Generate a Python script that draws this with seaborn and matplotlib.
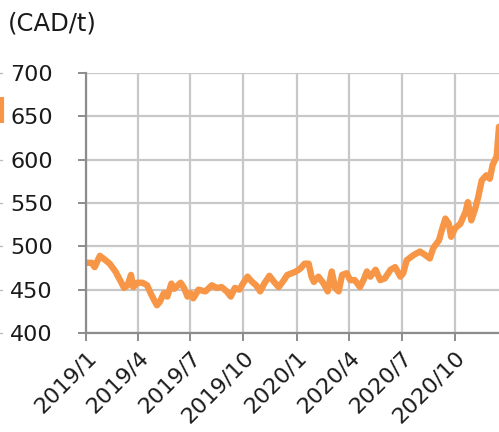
import pandas as pd
import matplotlib
matplotlib.use("Agg")
import matplotlib.pyplot as plt
from matplotlib.lines import Line2D
import seaborn as sns

# =========================
# DATA
# =========================
dates = [
    "2019-01-01", "2019-01-11", "2019-01-16", "2019-01-25", "2019-02-02", "2019-02-11",
    "2019-02-21", "2019-03-01", "2019-03-08", "2019-03-14", "2019-03-20", "2019-03-24",
    "2019-03-31", "2019-04-09", "2019-04-17", "2019-04-23", "2019-04-29", "2019-05-04",
    "2019-05-09", "2019-05-16", "2019-05-22", "2019-05-29", "2019-06-03", "2019-06-14",
    "2019-06-20", "2019-06-26", "2019-07-01", "2019-07-06", "2019-07-15", "2019-07-27",
    "2019-08-07", "2019-08-16", "2019-08-24", "2019-09-02", "2019-09-09", "2019-09-16",
    "2019-09-24", "2019-09-30", "2019-10-08", "2019-10-16", "2019-10-23", "2019-10-30",
    "2019-11-06", "2019-11-15", "2019-11-23", "2019-12-01", "2019-12-08", "2019-12-16",
    "2019-12-24", "2019-12-31", "2020-01-07", "2020-01-15", "2020-01-22", "2020-01-27",
    "2020-01-31", "2020-02-08", "2020-02-17", "2020-02-24", "2020-03-02", "2020-03-08",
    "2020-03-14", "2020-03-20", "2020-03-28", "2020-04-03", "2020-04-11", "2020-04-20",
    "2020-04-26", "2020-05-02", "2020-05-08", "2020-05-17", "2020-05-25", "2020-06-02",
    "2020-06-12", "2020-06-20", "2020-06-29", "2020-07-04", "2020-07-10", "2020-07-22",
    "2020-08-02", "2020-08-11", "2020-08-19", "2020-08-25", "2020-09-04", "2020-09-09",
    "2020-09-15", "2020-09-21", "2020-09-25", "2020-10-02", "2020-10-11", "2020-10-20",
    "2020-10-24", "2020-10-30", "2020-11-06", "2020-11-11", "2020-11-17", "2020-11-25",
    "2020-12-01", "2020-12-06", "2020-12-13", "2020-12-17",
]
price = [
    481, 481, 476, 489, 485, 480,
    471, 461, 452, 455, 467, 453,
    458, 458, 455, 446, 438, 432,
    436, 446, 442, 457, 451, 458,
    452, 442, 446, 440, 450, 448,
    455, 452, 453, 448, 442, 452,
    450, 457, 465, 459, 455, 448,
    457, 466, 459, 453, 459, 467,
    469, 471, 474, 480, 480, 465,
    459, 465, 457, 448, 471, 452,
    448, 467, 469, 461, 461, 453,
    461, 471, 465, 473, 461, 463,
    473, 476, 465, 469, 484, 490,
    494, 490, 486, 498, 507, 519,
    532, 526, 511, 521, 526, 540,
    551, 530, 544, 557, 576, 582,
    578, 594, 604, 638,
]
tick_dates = ["2019-01-01", "2019-04-01", "2019-07-01", "2019-10-01",
              "2020-01-01", "2020-04-01", "2020-07-01", "2020-10-01"]
tick_labels = ["2019/1", "2019/4", "2019/7", "2019/10",
               "2020/1", "2020/4", "2020/7", "2020/10"]
y_ticks = [400, 450, 500, 550, 600, 650, 700]

df = pd.DataFrame({"date": pd.to_datetime(dates), "price": price})

# =========================
# PLOT
# =========================
sns.set_theme(style="white")
plt.rcParams["font.family"] = ["DejaVu Sans"]

line_color = "#F79646"
grid_color = "#C8C8C8"
axis_color = "#8C8C8C"

fig = plt.figure(figsize=(4.99, 4.32), dpi=100)
ax = fig.add_axes([86 / 499, 99 / 432, 1 - 86 / 499, 260 / 432])

sns.lineplot(data=df, x="date", y="price", ax=ax, color=line_color,
             linewidth=4.6, solid_joinstyle="round", solid_capstyle="round")

ax.set_xlim(pd.Timestamp("2019-01-01"), pd.Timestamp("2020-12-17"))
ax.set_ylim(400, 700)
ax.set_yticks(y_ticks)
ax.set_yticklabels([str(v) for v in y_ticks])
ax.set_xticks(pd.to_datetime(tick_dates))
ax.set_xticklabels(tick_labels, rotation=45, ha="right", rotation_mode="anchor")

ax.grid(True, color=grid_color, linewidth=1.6)
ax.set_axisbelow(True)
for side in ["top", "right"]:
    ax.spines[side].set_visible(False)
for side in ["left", "bottom"]:
    ax.spines[side].set_color(axis_color)
    ax.spines[side].set_linewidth(1.6)

ax.tick_params(axis="y", direction="out", length=6, width=1.4, color=axis_color,
               pad=18, labelsize=16, labelcolor="#1a1a1a", left=True)
ax.tick_params(axis="x", direction="out", length=6, width=1.4, color=axis_color,
               pad=4, labelsize=16, labelcolor="#1a1a1a", bottom=True)
ax.set_xlabel("")
ax.set_ylabel("")

fig.text(8 / 499, 1 - 31 / 432, "(CAD/t)", fontsize=17.5, color="#1a1a1a",
         ha="left", va="baseline")

# cut-off fragments at the left edge
fig.add_artist(Line2D([1.5 / 499, 1.5 / 499], [1 - 97 / 432, 1 - 123 / 432],
                      color=line_color, linewidth=3, solid_capstyle="butt"))
trans = ax.get_yaxis_transform()
for v in y_ticks:
    ax.add_line(Line2D([-86 / 413, -84 / 413], [v, v], transform=trans,
                       color="#BBBBBB", linewidth=1, clip_on=False))

fig.savefig("out.png", dpi=100)
plt.close(fig)
